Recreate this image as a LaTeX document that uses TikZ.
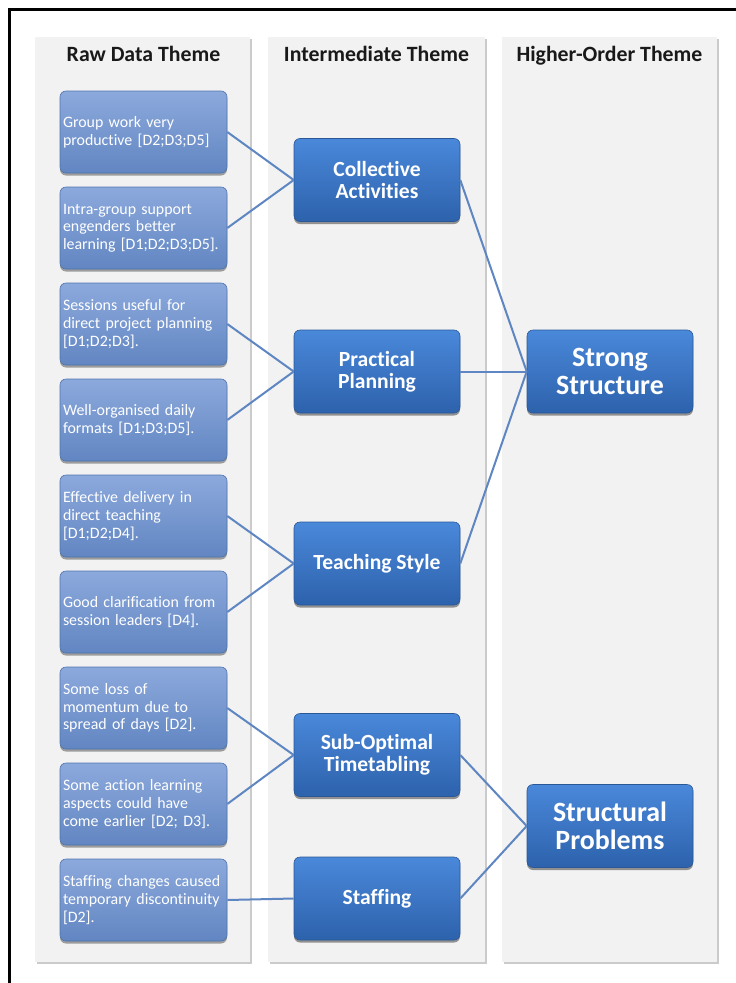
\documentclass[tikz,border=0pt]{standalone}
\usepackage{fontspec}
\setmainfont{Carlito}[Ligatures=NoCommon]
\usetikzlibrary{shadows}
\definecolor{panelfill}{HTML}{F2F2F2}
\definecolor{rawtop}{HTML}{8CA9DC}
\definecolor{rawbot}{HTML}{6286C2}
\definecolor{rawedge}{HTML}{4F73AE}
\definecolor{midtop}{HTML}{4A88DA}
\definecolor{midbot}{HTML}{2D62AC}
\definecolor{midedge}{HTML}{2A5896}
\definecolor{connc}{HTML}{5E86C2}
\tikzset{
  panelbox/.style={fill=panelfill, drop shadow={shadow xshift=2pt, shadow yshift=-2pt, opacity=0.45, fill=black!45}},
  headtext/.style={font=\fontsize{21.8}{24}\selectfont\bfseries, text=black!90, anchor=base},
  rawbox/.style={rounded corners=6pt, top color=rawtop, bottom color=rawbot, draw=rawedge, line width=0.6pt,
    text=white, font=\fontsize{15.9}{17.7}\selectfont, align=left, text width=161pt, inner xsep=3pt,
    minimum height=82pt,
    drop shadow={shadow xshift=0pt, shadow yshift=-2.5pt, opacity=0.35, fill=black}},
  midbox/.style={rounded corners=6pt, top color=midtop, bottom color=midbot, draw=midedge, line width=0.6pt,
    text=white, font=\fontsize{21.6}{22}\selectfont\bfseries, align=center, minimum width=166pt,
    minimum height=83pt,
    drop shadow={shadow xshift=0pt, shadow yshift=-2.5pt, opacity=0.4, fill=black}},
  topbox/.style={midbox, font=\fontsize{27.9}{28}\selectfont\bfseries},
  conn/.style={draw=connc, line width=2pt}
}
\begin{document}
\begin{tikzpicture}[x=1pt,y=-1pt]
\useasboundingbox (0,0) rectangle (736,983);
\fill[white] (0,0) rectangle (736,983);
% outer frame (left and top edges)
\draw[line width=3pt, black] (9.5,983) -- (9.5,9.5) -- (736,9.5);
% panels
\path[panelbox] (35,37) rectangle (250,962);
\path[panelbox] (268,37) rectangle (485,962);
\path[panelbox] (502,37) rectangle (717,962);
% headings
\node[headtext] (h1) at (143.5,61.5) {Raw Data Theme};
\node[headtext] (h2) at (376.5,61.5) {Intermediate Theme};
\node[headtext] (h3) at (609.5,61.5) {Higher-Order Theme};
% raw data boxes
\node[rawbox] (r1) at (143.5,132) {Group work very\\productive [D2;D3;D5]};
\node[rawbox] (r2) at (143.5,228) {Intra-group support\\engenders better\\learning [D1;D2;D3;D5].};
\node[rawbox] (r3) at (143.5,324) {Sessions useful for\\direct project planning\\{[D1;D2;D3].}};
\node[rawbox] (r4) at (143.5,420) {Well-organised daily\\formats [D1;D3;D5].};
\node[rawbox] (r5) at (143.5,516) {Effective delivery in\\direct teaching\\{[D1;D2;D4].}};
\node[rawbox] (r6) at (143.5,612) {Good clarification from\\session leaders [D4].};
\node[rawbox] (r7) at (143.5,708) {Some loss of\\momentum due to\\spread of days [D2].};
\node[rawbox] (r8) at (143.5,804) {Some action learning\\aspects could have\\come earlier [D2; D3].};
\node[rawbox] (r9) at (143.5,900) {Staffing changes caused\\temporary discontinuity\\{[D2].}};
% intermediate boxes
\node[midbox] (m1) at (377,180) {Collective\\Activities};
\node[midbox] (m2) at (377,371.5) {Practical\\Planning};
\node[midbox] (m3) at (377,563.5) {Teaching Style};
\node[midbox] (m4) at (377,755) {Sub-Optimal\\Timetabling};
\node[midbox] (m5) at (377,898.5) {Staffing};
% higher-order boxes
\node[topbox] (t1) at (610,371.5) {Strong\\Structure};
\node[topbox] (t2) at (610,826) {Structural\\Problems};
% connectors
\draw[conn] (r1.east) -- (m1.west);
\draw[conn] (r2.east) -- (m1.west);
\draw[conn] (r3.east) -- (m2.west);
\draw[conn] (r4.east) -- (m2.west);
\draw[conn] (r5.east) -- (m3.west);
\draw[conn] (r6.east) -- (m3.west);
\draw[conn] (r7.east) -- (m4.west);
\draw[conn] (r8.east) -- (m4.west);
\draw[conn] (r9.east) -- (m5.west);
\draw[conn] (m1.east) -- (t1.west);
\draw[conn] (m2.east) -- (t1.west);
\draw[conn] (m3.east) -- (t1.west);
\draw[conn] (m4.east) -- (t2.west);
\draw[conn] (m5.east) -- (t2.west);
\end{tikzpicture}
\end{document}
